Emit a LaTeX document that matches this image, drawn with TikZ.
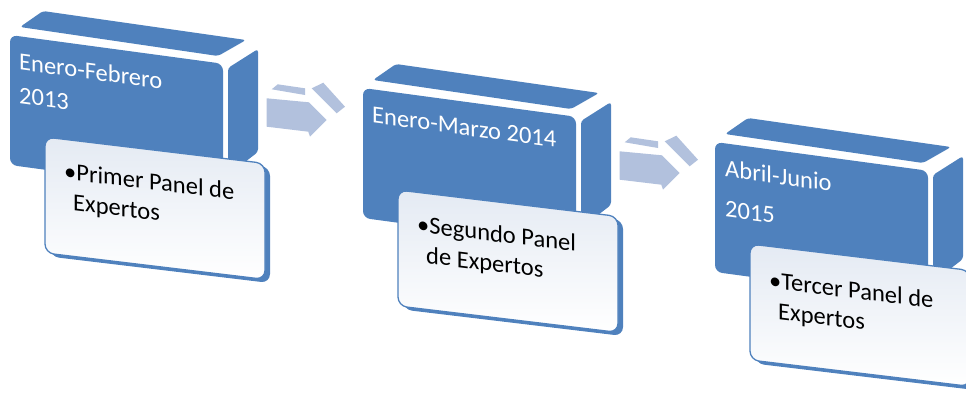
\documentclass[tikz,border=0pt]{standalone}
\usepackage{fontspec}
\setmainfont{Carlito}
\usepackage{tikz}
\usepackage{xcolor}

\definecolor{boxblue}{HTML}{4F81BD}
\definecolor{arrowblue}{HTML}{B2C1DD}
\definecolor{paneltint}{HTML}{E4EAF3}

\begin{document}
\begin{tikzpicture}[x=1pt, y=-1pt,
        boxface/.style={fill=boxblue},
        panelside/.style={fill=boxblue, rounded corners=9pt},
        panelface/.style={top color=paneltint, bottom color=white, draw=boxblue, line width=1.3pt, rounded corners=9pt},
        arrowpiece/.style={fill=arrowblue},
        boxtext/.style={anchor=base west, inner sep=0pt, text=white, font=\fontsize{24.5}{30}\selectfont},
        paneltext/.style={anchor=base west, inner sep=0pt, text=black, font=\fontsize{24.5}{30}\selectfont}]
        \useasboundingbox (0,0) rectangle (966,392);
        \clip (0,0) rectangle (966,392);
        % blue boxes
        \foreach \bx/\by in {10/35, 363/88, 715/142} {
            \begin{scope}[shift={(\bx,\by)}]
                \fill[boxface, rounded corners=3pt] (10,-8) -- (208,21) -- (236,5) -- (33,-24) -- cycle;
                \fill[boxface, rounded corners=3pt] (218,33) -- (248,14) -- (248,117) -- (218,140) -- cycle;
                \fill[boxface, yslant=-0.135, rounded corners=7pt] (0,0) rectangle (213,130);
            \end{scope}
        }
        % arrows
        \foreach \bx/\by in {10/35, 363/88} {
            \begin{scope}[shift={(\bx,\by)}]
                \fill[arrowpiece] (256.7,63.3) -- (299,67.3) -- (316.7,85) -- (300,101.7) -- (298.3,96.7) -- (256.7,91.7) -- cycle;
                \fill[arrowpiece] (261.7,54.3) -- (267.7,49.3) -- (295,53.3) -- (295,60) -- cycle;
                \fill[arrowpiece] (301.7,53.3) -- (313.3,47.7) -- (335,71.7) -- (326.7,78.3) -- cycle;
            \end{scope}
        }
        % white panels
        \foreach \bx/\by in {45/137, 398/190, 750/244} {
            \begin{scope}[shift={(\bx,\by)}, yslant=-0.12]
                \fill[panelside] (5,3) rectangle (225,119);
                \path[panelface] (0,0) rectangle (220,116);
            \end{scope}
        }
        \begin{scope}[shift={(10,35)}, yslant=-0.135, transform shape]
            \node[boxtext] (fecha1a) at (9,33.5) {Enero-Febrero};
            \node[boxtext] (fecha1b) at (9,67) {2013};
        \end{scope}
        \begin{scope}[shift={(363,88)}, yslant=-0.135, transform shape]
            \node[boxtext] (fecha2) at (9,33.5) {Enero-Marzo 2014};
        \end{scope}
        \begin{scope}[shift={(715,142)}, yslant=-0.135, transform shape]
            \node[boxtext] (fecha3a) at (10,33.5) {Abril-Junio};
            \node[boxtext] (fecha3b) at (10,73.5) {2015};
        \end{scope}
        \begin{scope}[shift={(45,137)}, yslant=-0.12, transform shape]
            \node[paneltext] (panel1a) at (19,40) {\textbullet Primer Panel de};
            \node[paneltext] (panel1b) at (28,70) {Expertos};
        \end{scope}
        \begin{scope}[shift={(398,190)}, yslant=-0.12, transform shape]
            \node[paneltext] (panel2a) at (19,40) {\textbullet Segundo Panel};
            \node[paneltext] (panel2b) at (28,70) {de Expertos};
        \end{scope}
        \begin{scope}[shift={(750,244)}, yslant=-0.12, transform shape]
            \node[paneltext] (panel3a) at (19,42) {\textbullet Tercer Panel de};
            \node[paneltext] (panel3b) at (28,72) {Expertos};
        \end{scope}
    \end{tikzpicture}
\end{document}
